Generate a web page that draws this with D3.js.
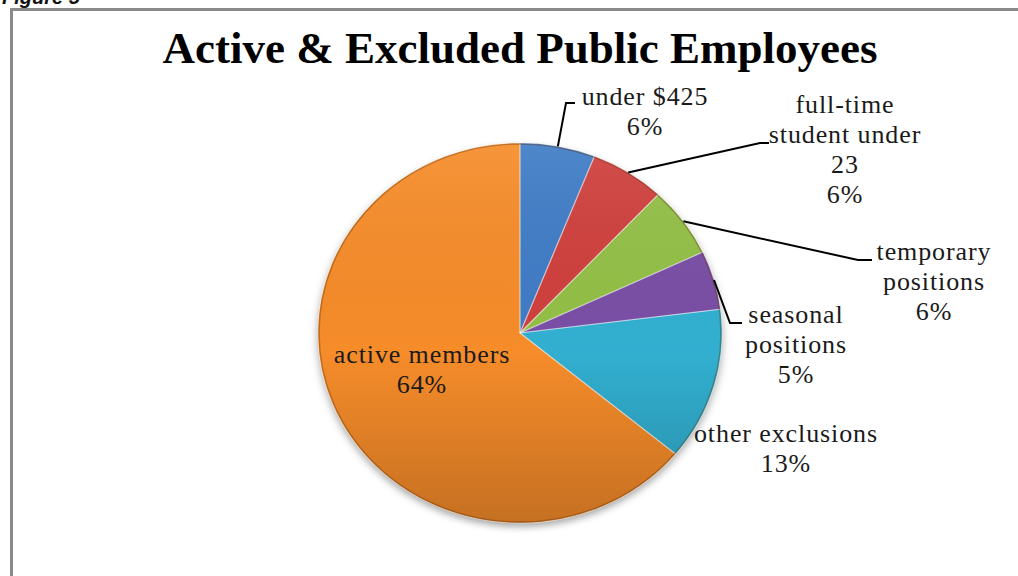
<!DOCTYPE html>
<html>
<head>
<meta charset="utf-8">
<script src="https://cdn.jsdelivr.net/npm/d3@7"></script>
<style>
  html, body { margin: 0; padding: 0; background: #fff; }
  svg { display: block; }
</style>
</head>
<body>
<svg id="chart" width="1018" height="576"></svg>
<script>
// ---- data ----
const categories = ["under $425", "full-time student under 23", "temporary positions", "seasonal positions", "other exclusions", "active members"];
const values = [6, 6, 6, 5, 13, 64];
const nameLines = [["under $425"], ["full-time", "student under", "23"], ["temporary", "positions"], ["seasonal", "positions"], ["other exclusions"], ["active members"]];
const colors = ["#3f7bc6", "#cf3f3e", "#93c047", "#7a50a6", "#31afd0", "#f68c2a"];
const title = "Active & Excluded Public Employees";
const figureLabel = "Figure 5";

// ---- layout ----
const W = 1018, H = 576;
const cx = 520, cy = 333, rx = 202, ry = 190;
const labelLayout = [
  { x: 645, y: 105, leader: [[566, 103], [575, 103]] },
  { x: 845, y: 113, leader: [[760, 143], [769, 143]] },
  { x: 934, y: 260, leader: [[858, 260], [872, 260]] },
  { x: 796, y: 323, leader: [[730, 323], [742, 323]] },
  { x: 786, y: 442, leader: null },
  { x: 422, y: 363, leader: null }
];
const lineGap = 30;

const svg = d3.select("#chart");
const defs = svg.append("defs");

const shadow = defs.append("filter").attr("id", "shadow")
  .attr("x", "-20%").attr("y", "-20%").attr("width", "140%").attr("height", "140%");
shadow.append("feDropShadow").attr("dx", 0).attr("dy", 4).attr("stdDeviation", 4)
  .attr("flood-color", "#000").attr("flood-opacity", 0.35);

const shade = defs.append("linearGradient").attr("id", "shade")
  .attr("gradientUnits", "userSpaceOnUse")
  .attr("x1", 0).attr("y1", -rx).attr("x2", 0).attr("y2", rx);
shade.append("stop").attr("offset", "0%").attr("stop-color", "#fff").attr("stop-opacity", 0.08);
shade.append("stop").attr("offset", "55%").attr("stop-color", "#000").attr("stop-opacity", 0.0);
shade.append("stop").attr("offset", "100%").attr("stop-color", "#000").attr("stop-opacity", 0.2);

// frame
svg.append("path")
  .attr("d", `M11.5,${H} V9.5 H${W}`)
  .attr("fill", "none").attr("stroke", "#8a8a8a").attr("stroke-width", 3);

svg.append("text")
  .attr("x", 2).attr("y", 4)
  .attr("font-family", "Liberation Sans, Arial, sans-serif")
  .attr("font-weight", "bold").attr("font-style", "italic")
  .attr("font-size", 20).attr("fill", "#111")
  .text(figureLabel);

// title
svg.append("text")
  .attr("x", cx).attr("y", 63)
  .attr("text-anchor", "middle")
  .attr("font-family", "Liberation Serif, 'Times New Roman', serif")
  .attr("font-weight", "bold").attr("font-size", 45).attr("fill", "#000")
  .text(title);

// pie
const pie = d3.pie().sort(null).value(d => d)(values);
const arc = d3.arc().innerRadius(0).outerRadius(rx);
const sy = ry / rx;
const g = svg.append("g").attr("transform", `translate(${cx},${cy}) scale(1,${sy})`);

const gp = g.append("g").attr("filter", "url(#shadow)");
gp.selectAll("path.slice").data(pie).join("path")
  .attr("class", "slice")
  .attr("d", arc)
  .attr("fill", (d, i) => colors[i]);

g.selectAll("path.shade").data(pie).join("path")
  .attr("class", "shade")
  .attr("d", arc)
  .attr("fill", "url(#shade)")
  .attr("stroke", "rgba(255,255,255,0.35)").attr("stroke-width", 1.2);

g.append("ellipse").attr("rx", rx - 1).attr("ry", rx - 1)
  .attr("fill", "none").attr("stroke", "rgba(90,45,10,0.35)").attr("stroke-width", 1.5);

// leaders
const font = "Liberation Serif, 'Times New Roman', serif";
pie.forEach((d, i) => {
  const L = labelLayout[i];
  if (L.leader) {
    const a = (d.startAngle + d.endAngle) / 2;
    const start = [cx + rx * Math.sin(a), cy - ry * Math.cos(a)];
    svg.append("path")
      .attr("d", d3.line()([start, ...L.leader]))
      .attr("fill", "none").attr("stroke", "#000").attr("stroke-width", 2);
  }
  const lines = [...nameLines[i], `${values[i]}%`];
  const t = svg.append("text")
    .attr("text-anchor", "middle")
    .attr("font-family", font).attr("font-size", 26)
    .attr("letter-spacing", "0.9px")
    .attr("fill", "#1a1a1a");
  lines.forEach((s, k) => {
    t.append("tspan").attr("x", L.x).attr("y", L.y + k * lineGap).text(s);
  });
});
</script>
</body>
</html>
